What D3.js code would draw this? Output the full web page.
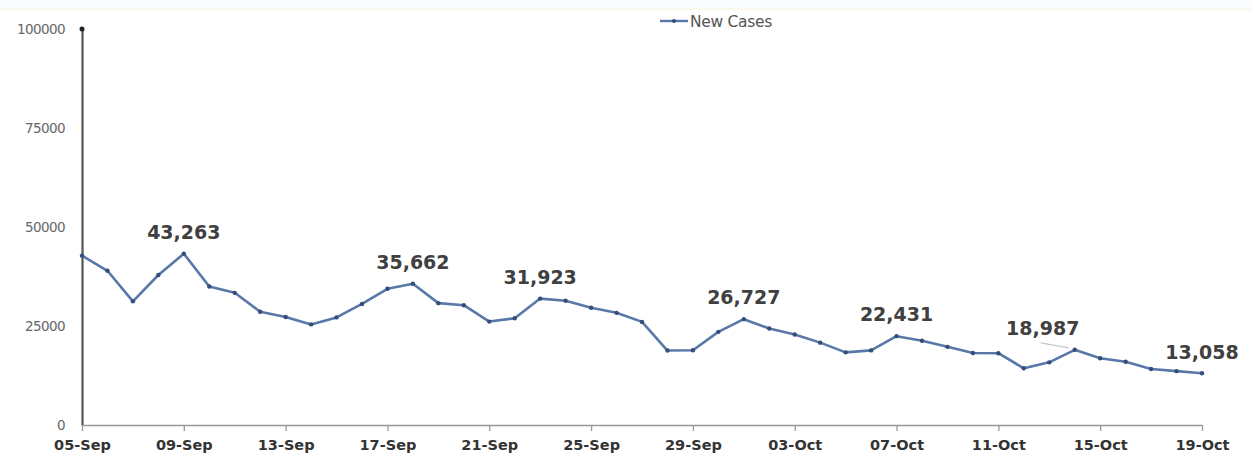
<!DOCTYPE html>
<html>
<head>
<meta charset="utf-8">
<script src="https://cdn.jsdelivr.net/npm/d3@7"></script>
<style>
  body { margin: 0; background: #fff; }
  svg { display: block; }
</style>
</head>
<body>
<svg id="chart" width="1251" height="456"></svg>
<script>
// daily new cases, 05-Sep .. 19-Oct
var dates = ['05-Sep','06-Sep','07-Sep','08-Sep','09-Sep','10-Sep','11-Sep','12-Sep','13-Sep','14-Sep',
  '15-Sep','16-Sep','17-Sep','18-Sep','19-Sep','20-Sep','21-Sep','22-Sep','23-Sep','24-Sep',
  '25-Sep','26-Sep','27-Sep','28-Sep','29-Sep','30-Sep','01-Oct','02-Oct','03-Oct','04-Oct',
  '05-Oct','06-Oct','07-Oct','08-Oct','09-Oct','10-Oct','11-Oct','12-Oct','13-Oct','14-Oct',
  '15-Oct','16-Oct','17-Oct','18-Oct','19-Oct'];
var newCases = [42766,38948,31222,37875,43263,34973,33376,28591,27254,25404,
  27176,30570,34403,35662,30773,30256,26115,26964,31923,31382,
  29616,28326,26041,18795,18870,23529,26727,24354,22842,20799,
  18346,18833,22431,21257,19740,18166,18132,14313,15823,18987,
  16862,15981,14146,13596,13058];
var yTicks = [0,25000,50000,75000,100000];
var xTickLabels = ['05-Sep','09-Sep','13-Sep','17-Sep','21-Sep','25-Sep','29-Sep','03-Oct','07-Oct','11-Oct','15-Oct','19-Oct'];
var labelled = ['09-Sep','18-Sep','23-Sep','01-Oct','07-Oct','14-Oct','19-Oct'];

var svg = d3.select('#chart');

// faint band along the top edge
svg.append('rect').attr('x', 0).attr('y', 0).attr('width', 1251).attr('height', 8).attr('fill', '#fbfcfd');
svg.append('rect').attr('x', 0).attr('y', 8).attr('width', 1251).attr('height', 2).attr('fill', '#fdf8ee');

var x = d3.scalePoint().domain(dates).range([82, 1202]);
var y = d3.scaleLinear().domain([0, 100000]).range([425, 29]);

// y axis
var yAxis = svg.append('g').attr('transform', 'translate(82,0)')
  .call(d3.axisLeft(y).tickValues(yTicks).tickSize(0).tickPadding(17).tickFormat(d3.format('d')));
yAxis.select('.domain').attr('stroke', '#555').attr('stroke-width', 2.2);
yAxis.selectAll('text').attr('font-family', 'DejaVu Sans, sans-serif').attr('font-size', 13.5)
  .attr('fill', '#666').attr('letter-spacing', '-0.6');
svg.append('circle').attr('cx', 82).attr('cy', y(100000)).attr('r', 2.5).attr('fill', '#222');

// x axis
var xAxis = svg.append('g').attr('transform', 'translate(0,' + y(0) + ')')
  .call(d3.axisBottom(x).tickValues(xTickLabels).tickSize(6).tickSizeOuter(0).tickPadding(9));
xAxis.select('.domain').attr('stroke', '#999').attr('stroke-width', 1.5);
xAxis.selectAll('.tick line').attr('stroke', '#999').attr('stroke-width', 1.3);
xAxis.selectAll('text').attr('font-family', 'DejaVu Sans, sans-serif').attr('font-size', 14.5)
  .attr('font-weight', 'bold').attr('fill', '#333');

var data = dates.map(function(d, i) { return {date: d, value: newCases[i]}; });

var line = d3.line().x(function(d) { return x(d.date); }).y(function(d) { return y(d.value); });

svg.append('path').datum(data)
  .attr('d', line)
  .attr('fill', 'none')
  .attr('stroke', '#5878a8')
  .attr('stroke-width', 2.6)
  .attr('stroke-linejoin', 'round');

svg.selectAll('circle.pt').data(data).enter().append('circle')
  .attr('class', 'pt')
  .attr('cx', function(d) { return x(d.date); })
  .attr('cy', function(d) { return y(d.value); })
  .attr('r', 2.2)
  .attr('fill', '#344e7a');

// data labels
var fmt = d3.format(',');
var labelData = data.filter(function(d) { return labelled.indexOf(d.date) >= 0; });
var shiftX = {'14-Oct': -32, '19-Oct': 0};
var shiftY = {'14-Oct': -15, '19-Oct': -14};

svg.selectAll('text.lbl').data(labelData).enter().append('text')
  .attr('class', 'lbl')
  .attr('x', function(d) { return x(d.date) + (shiftX[d.date] || 0); })
  .attr('y', function(d) { return y(d.value) + (shiftY[d.date] || -15); })
  .attr('text-anchor', 'middle')
  .attr('font-family', 'DejaVu Sans, sans-serif')
  .attr('font-size', 19)
  .attr('font-weight', 'bold')
  .attr('fill', '#404040')
  .text(function(d) { return fmt(d.value); });

// leader line for the shifted label
var oct14 = data.filter(function(d) { return d.date === '14-Oct'; })[0];
svg.append('line')
  .attr('x1', x(oct14.date) - 34).attr('y1', y(oct14.value) - 7)
  .attr('x2', x(oct14.date) - 6).attr('y2', y(oct14.value) - 2)
  .attr('stroke', '#c8c8c8').attr('stroke-width', 1.2);

// legend
var legend = svg.append('g').attr('transform', 'translate(660,21)');
legend.append('line').attr('x1', 0).attr('x2', 28).attr('y1', 0).attr('y2', 0)
  .attr('stroke', '#5878a8').attr('stroke-width', 2.4);
legend.append('circle').attr('cx', 14).attr('cy', 0).attr('r', 2).attr('fill', '#344e7a');
legend.append('text').attr('x', 30).attr('y', 5.5)
  .attr('font-family', 'DejaVu Sans, sans-serif').attr('font-size', 15.5)
  .attr('fill', '#555').attr('letter-spacing', '-0.3').text('New Cases');
</script>
</body>
</html>
